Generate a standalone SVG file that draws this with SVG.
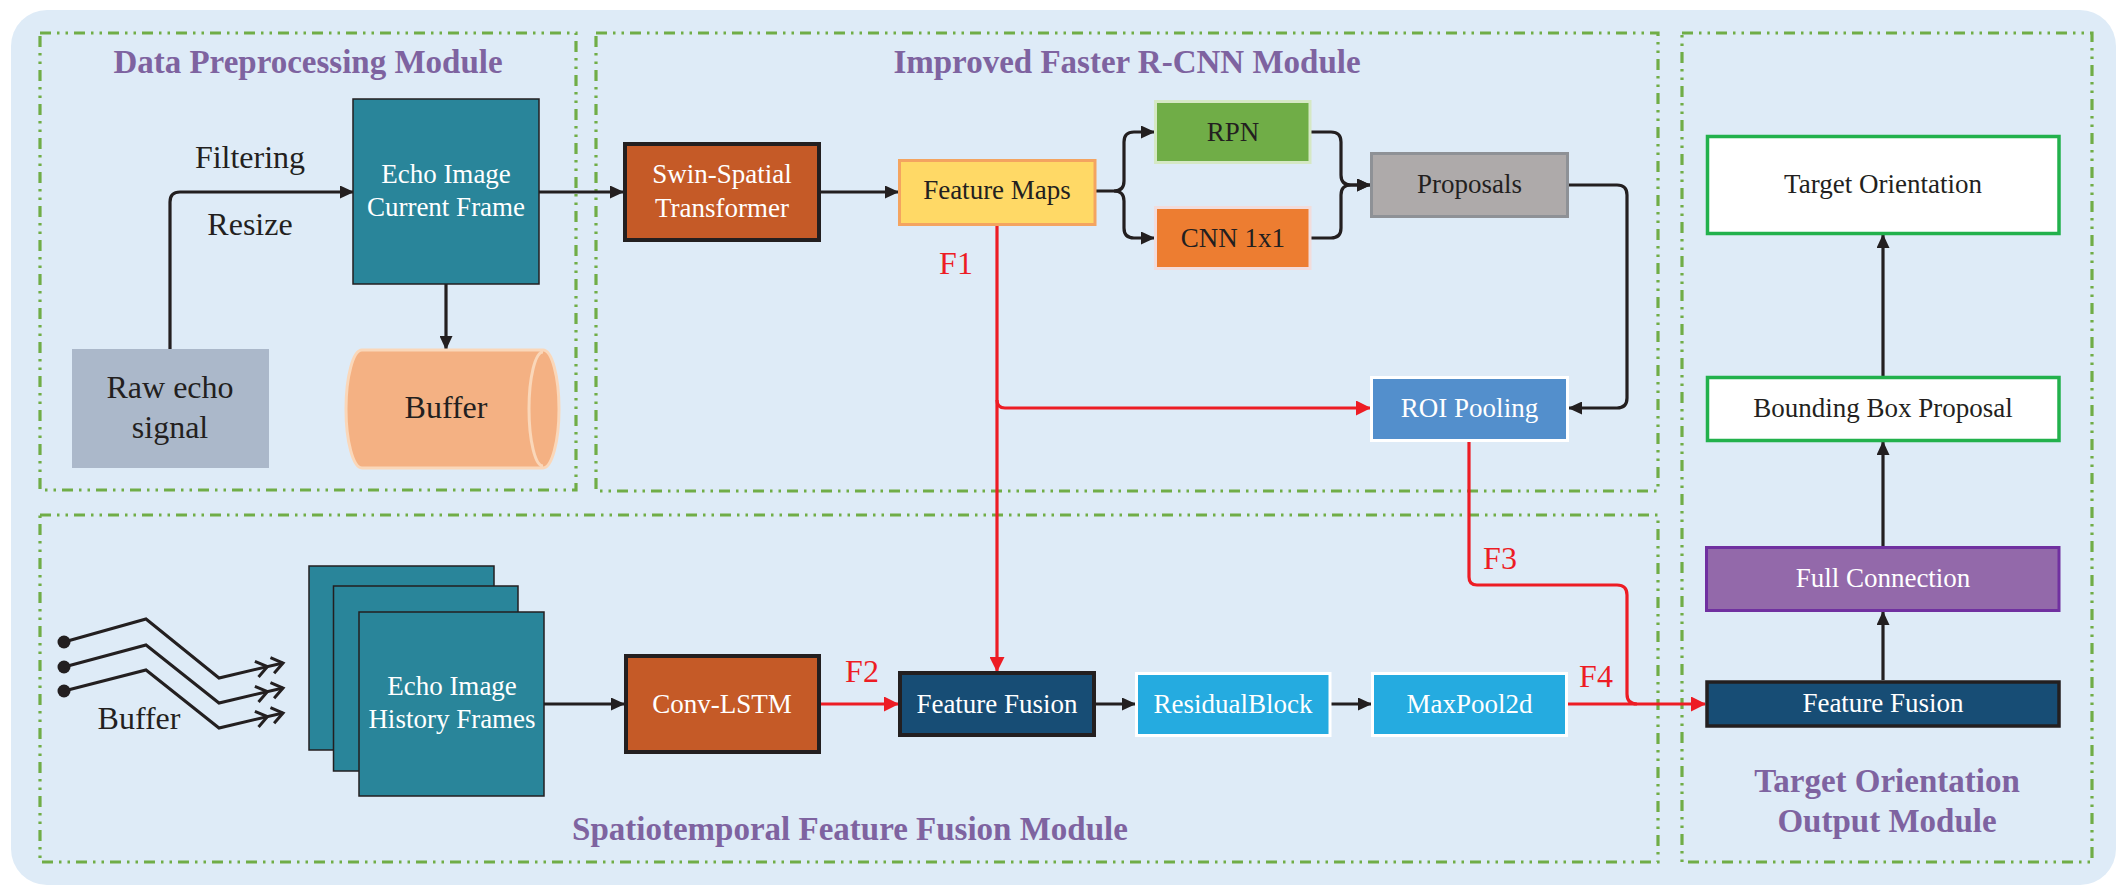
<svg xmlns="http://www.w3.org/2000/svg" width="2125" height="895" viewBox="0 0 2125 895">
<style>
text{font-family:'Liberation Serif','DejaVu Serif',serif}
.mod{fill:none;stroke:#70AD47;stroke-width:3.2;stroke-dasharray:11 6 2.5 6 2.5 6}
.title{font-weight:bold;font-size:33px;fill:#7E63A0;text-anchor:middle}
.t{font-size:27px;fill:#231F20;text-anchor:middle}
.tw{font-size:27px;fill:#FFFFFF;text-anchor:middle}
.tl{font-size:32px;fill:#231F20;text-anchor:middle}
.tr{font-size:32px;fill:#ED1C24;text-anchor:middle}
.cb{fill:none;stroke:#231F20;stroke-width:3.2;marker-end:url(#ab)}
.cr{fill:none;stroke:#ED1C24;stroke-width:3.2}
.cra{fill:none;stroke:#ED1C24;stroke-width:3.2;marker-end:url(#ar)}
.w{fill:none;stroke:#231F20;stroke-width:3;marker-end:url(#dc)}
</style>
<defs>
<marker id="ab" markerWidth="14" markerHeight="13" refX="13" refY="6.5" orient="auto" markerUnits="userSpaceOnUse"><path d="M0,0 L14,6.5 L0,13 Z" fill="#231F20"/></marker>
<marker id="ar" markerWidth="15" markerHeight="15" refX="14" refY="7.5" orient="auto" markerUnits="userSpaceOnUse"><path d="M0,0 L15,7.5 L0,15 Z" fill="#ED1C24"/></marker>
<marker id="dc" markerWidth="40" markerHeight="30" refX="33" refY="15" orient="auto" markerUnits="userSpaceOnUse" overflow="visible"><path d="M6,7 L17,15 L6,23 M22,7 L33,15 L22,23" fill="none" stroke="#231F20" stroke-width="3"/></marker>
</defs>

<rect x="11" y="10" width="2105" height="875" rx="36" fill="#DEEBF7"/>

<g id="modules">
<rect class="mod" x="40" y="33" width="536" height="457"/>
<rect class="mod" x="596" y="33" width="1062" height="458"/>
<rect class="mod" x="1682" y="33" width="410" height="829"/>
<rect class="mod" x="40" y="515" width="1618" height="347"/>
<text class="title" font-family="Liberation Serif, serif" x="308" y="73">Data Preprocessing Module</text>
<text class="title" font-family="Liberation Serif, serif" x="1127" y="73">Improved Faster R-CNN Module</text>
<text class="title" font-family="Liberation Serif, serif" x="850" y="840">Spatiotemporal Feature Fusion Module</text>
<text class="title" font-family="Liberation Serif, serif" x="1887" y="792">Target Orientation</text>
<text class="title" font-family="Liberation Serif, serif" x="1887" y="832">Output Module</text>
</g>

<g id="connectors">
<path class="cb" d="M170,349 V202 Q170,192 180,192 H353"/>
<path class="cb" d="M446,284 V349"/>
<path class="cb" d="M539,192 H623"/>
<path class="cb" d="M821,192 H898"/>
<path class="cb" d="M1096,191 H1114 Q1124,191 1124,181 V142 Q1124,132 1134,132 H1154"/>
<path class="cb" d="M1114,191 Q1124,191 1124,201 V228 Q1124,238 1134,238 H1154"/>
<path class="cb" d="M1311,132 H1331 Q1341,132 1341,142 V175 Q1341,185 1351,185 H1370"/>
<path class="cb" d="M1311,238 H1331 Q1341,238 1341,228 V195 Q1341,185 1351,185 H1370"/>
<path class="cb" d="M1569,185 H1617 Q1627,185 1627,195 V398 Q1627,408 1617,408 H1569"/>
<path class="cb" d="M544,704 H624"/>
<path class="cb" d="M1096,704 H1135"/>
<path class="cb" d="M1331,704 H1371"/>
<path class="cb" d="M1883,680 V612"/>
<path class="cb" d="M1883,546 V442"/>
<path class="cb" d="M1883,376 V235"/>
<path class="cra" d="M997,226 V671"/>
<path class="cra" d="M997,400 Q997,408 1005,408 H1370"/>
<path class="cra" d="M821,704 H898"/>
<path class="cr" d="M1469,442 V577 Q1469,585 1477,585 H1617 Q1627,585 1627,595 V694 Q1627,704 1637,704"/>
<path class="cra" d="M1568,704 H1705"/>
<g id="buffer-wires">
<circle cx="64" cy="642" r="6.5" fill="#231F20"/>
<circle cx="64" cy="667" r="6.5" fill="#231F20"/>
<circle cx="64" cy="691" r="6.5" fill="#231F20"/>
<path class="w" d="M64,642 L146,619 L219,678 L283,663"/>
<path class="w" d="M64,667 L146,645 L219,703 L283,688"/>
<path class="w" d="M64,691 L146,670 L219,728 L283,713"/>
<text class="tl" x="139" y="729">Buffer</text>
</g>
<text class="tl" x="250" y="168">Filtering</text>
<text class="tl" x="250" y="235">Resize</text>
<text class="tr" x="956" y="274">F1</text>
<text class="tr" x="862" y="682">F2</text>
<text class="tr" x="1500" y="569">F3</text>
<text class="tr" x="1596" y="687">F4</text>
</g>

<g id="raw-echo">
<rect x="72" y="349" width="197" height="119" fill="#ABB8CA"/>
<text class="tl" x="170" y="398">Raw echo</text>
<text class="tl" x="170" y="438">signal</text>
</g>

<g id="echo-current">
<rect x="353" y="99" width="186" height="185" fill="#29859A" stroke="#231F20" stroke-width="1.5"/>
<text class="tw" x="446" y="183">Echo Image</text>
<text class="tw" x="446" y="216">Current Frame</text>
</g>

<g id="buffer">
<path d="M362,350 H543 A16,59 0 0 1 543,468 H362 A16,59 0 0 1 362,350 Z" fill="#F4B183" stroke="#FAD7B9" stroke-width="3"/>
<path d="M543,352 A14,57 0 0 0 543,466" fill="none" stroke="#FAD7B9" stroke-width="3"/>
<text class="tl" x="446" y="418">Buffer</text>
</g>

<g id="swin">
<rect x="625" y="144" width="194" height="96" fill="#C55A27" stroke="#231F20" stroke-width="4"/>
<text class="tw" x="722" y="183">Swin-Spatial</text>
<text class="tw" x="722" y="217">Transformer</text>
</g>

<g id="feature-maps">
<rect x="899.5" y="160.5" width="195.5" height="64" fill="#FFD966" stroke="#F4A460" stroke-width="3"/>
<text class="t" x="997" y="199">Feature Maps</text>
</g>

<g id="rpn">
<rect x="1155.5" y="101.5" width="154.5" height="61" fill="#70AD47" stroke="#D5E8C4" stroke-width="3"/>
<text class="t" x="1233" y="141">RPN</text>
</g>

<g id="cnn">
<rect x="1155.5" y="207.5" width="154.5" height="61" fill="#ED7D31" stroke="#F2DCDB" stroke-width="3"/>
<text class="t" x="1233" y="247">CNN 1x1</text>
</g>

<g id="proposals">
<rect x="1371.5" y="153.5" width="196" height="63" fill="#AEAAAA" stroke="#8E9196" stroke-width="3"/>
<text class="t" x="1469.5" y="193">Proposals</text>
</g>

<g id="roi">
<rect x="1371.5" y="377.5" width="196" height="63" fill="#538FCC" stroke="#FFFFFF" stroke-width="3"/>
<text class="tw" x="1469.5" y="417">ROI Pooling</text>
</g>

<g id="target-orientation">
<rect x="1707.5" y="136.5" width="351.5" height="97" fill="#FFFFFF" stroke="#22B14C" stroke-width="3.5"/>
<text class="t" x="1883" y="193">Target Orientation</text>
</g>

<g id="bbox">
<rect x="1707.5" y="377.5" width="351.5" height="63" fill="#FFFFFF" stroke="#22B14C" stroke-width="3.5"/>
<text class="t" x="1883" y="417">Bounding Box Proposal</text>
</g>

<g id="full-connection">
<rect x="1706.5" y="547.5" width="352.5" height="63" fill="#9369AA" stroke="#7030A0" stroke-width="3"/>
<text class="tw" x="1883" y="587">Full Connection</text>
</g>

<g id="fusion-out">
<rect x="1707" y="682" width="352" height="44" fill="#174D75" stroke="#231F20" stroke-width="3.5"/>
<text class="tw" x="1883" y="712">Feature Fusion</text>
</g>

<g id="history-frames">
<rect x="309" y="566" width="185" height="184" fill="#29859A" stroke="#231F20" stroke-width="1.5"/>
<rect x="333.5" y="586" width="184.5" height="185" fill="#29859A" stroke="#231F20" stroke-width="1.5"/>
<rect x="359" y="612" width="185" height="184" fill="#29859A" stroke="#231F20" stroke-width="1.5"/>
<text class="tw" x="452" y="695">Echo Image</text>
<text class="tw" x="452" y="728">History Frames</text>
</g>

<g id="conv-lstm">
<rect x="626" y="656" width="193" height="96" fill="#C55A27" stroke="#231F20" stroke-width="4"/>
<text class="tw" x="722" y="713">Conv-LSTM</text>
</g>

<g id="fusion">
<rect x="900" y="673" width="194" height="62" fill="#174D75" stroke="#231F20" stroke-width="4"/>
<text class="tw" x="997" y="713">Feature Fusion</text>
</g>

<g id="residual">
<rect x="1136.5" y="673.5" width="193.5" height="62" fill="#25ABE0" stroke="#FFFFFF" stroke-width="3"/>
<text class="tw" x="1233" y="713">ResidualBlock</text>
</g>

<g id="maxpool">
<rect x="1372.5" y="673.5" width="194" height="62" fill="#25ABE0" stroke="#FFFFFF" stroke-width="3"/>
<text class="tw" x="1469.5" y="713">MaxPool2d</text>
</g>
</svg>
